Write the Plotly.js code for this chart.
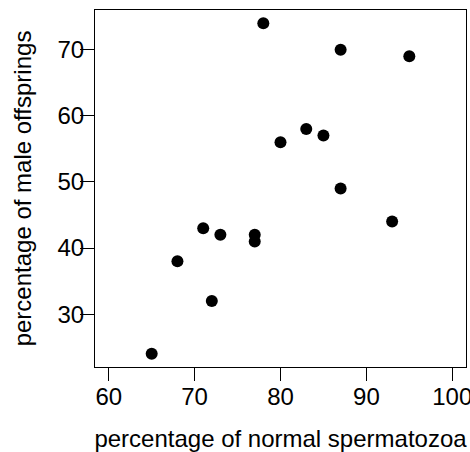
<!DOCTYPE html>
<html>
<head>
<meta charset="utf-8">
<script src="https://cdn.plot.ly/plotly-3.0.1.min.js"></script>
<style>html,body{margin:0;padding:0;background:#fff;}#chart{width:470px;height:452px;}</style>
</head>
<body>
<div id="chart"></div>
<script>
const normalSpermatozoa = [65, 68, 71, 72, 73, 77, 77, 78, 80, 83, 85, 87, 87, 93, 95];
const maleOffsprings   = [24, 38, 43, 32, 42, 42, 41, 74, 56, 58, 57, 70, 49, 44, 69];
const xTicks = [60, 70, 80, 90, 100];
const yTicks = [30, 40, 50, 60, 70];
const xTitle = "percentage of normal spermatozoa";
const yTitle = "percentage of male offsprings";

const font = {family: "Liberation Sans, Arial, Helvetica, sans-serif", size: 24, color: "#000"};

Plotly.newPlot("chart", [{
  x: normalSpermatozoa,
  y: maleOffsprings,
  type: "scatter",
  mode: "markers",
  marker: {color: "#000", size: 12, line: {width: 0}},
  hoverinfo: "x+y"
}], {
  width: 470, height: 452,
  margin: {l: 95, r: 4, t: 10, b: 85, pad: 0},
  paper_bgcolor: "#fff", plot_bgcolor: "#fff",
  showlegend: false,
  font: font,
  xaxis: {
    range: [58.4, 101.6], tickvals: xTicks, ticktext: xTicks.map(String),
    ticks: "outside", ticklen: 13, tickwidth: 1, tickcolor: "#000",
    ticklabeloverflow: "allow", ticklabelstandoff: -5,
    showline: true, mirror: true, linecolor: "#000", linewidth: 1,
    showgrid: false, zeroline: false, tickfont: font, automargin: false,
    title: {text: xTitle, font: font, standoff: 22}
  },
  yaxis: {
    range: [22, 76], tickvals: yTicks, ticktext: yTicks.map(String),
    ticks: "outside", ticklen: 14, tickwidth: 1, tickcolor: "#000",
    ticklabeloverflow: "allow", ticklabelstandoff: -9,
    showline: true, mirror: true, linecolor: "#000", linewidth: 1,
    showgrid: false, zeroline: false, tickfont: font, automargin: false,
    title: {text: yTitle, font: font, standoff: 19}
  }
}, {displayModeBar: false, staticPlot: true});
</script>
</body>
</html>
